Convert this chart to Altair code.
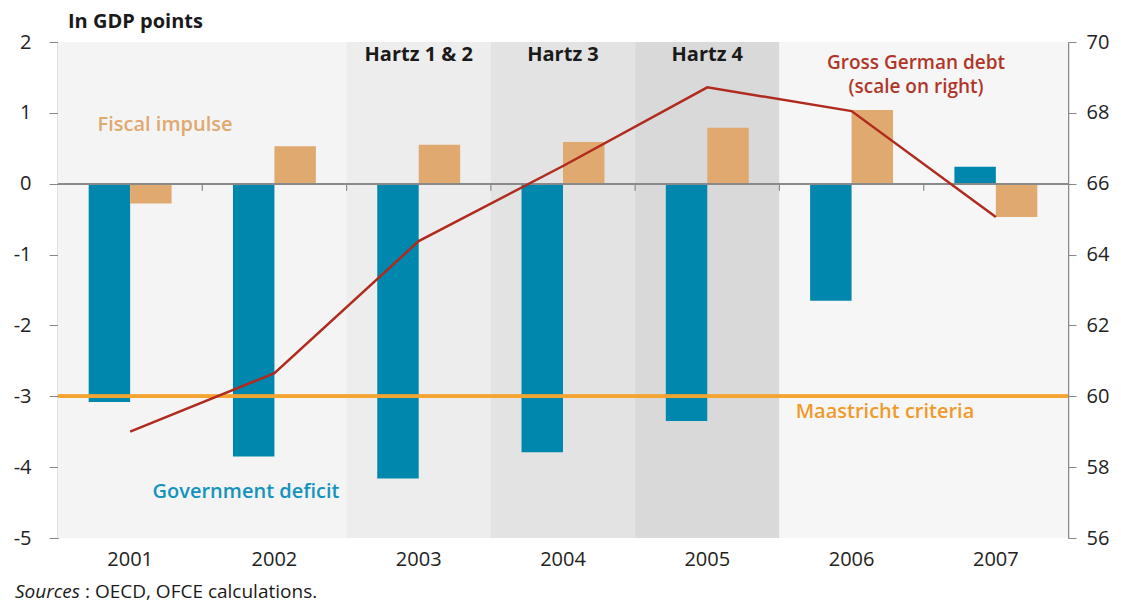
import altair as alt
import pandas as pd

years = ["2001", "2002", "2003", "2004", "2005", "2006", "2007"]
deficit = [-3.08, -3.85, -4.16, -3.79, -3.35, -1.65, 0.24]
impulse = [-0.28, 0.53, 0.55, 0.59, 0.79, 1.04, -0.47]
debt = [59.0, 60.65, 64.38, 66.5, 68.72, 68.05, 65.06]
hartz_years = ["2003", "2004", "2005"]
hartz_labels = ["Hartz 1 & 2", "Hartz 3", "Hartz 4"]
left_ticks = [-5, -4, -3, -2, -1, 0, 1, 2]
right_ticks = [56, 58, 60, 62, 64, 66, 68, 70]
maastricht = -3

FONT = "Open Sans"
W, H = 1010, 496

bars_df = pd.DataFrame({
    "year": years * 2,
    "series": ["deficit"] * len(years) + ["impulse"] * len(years),
    "value": deficit + impulse,
})
debt_df = pd.DataFrame({"year": years, "debt": debt})
bg_df = pd.DataFrame({"year": years})
hartz_df = pd.DataFrame({"year": hartz_years, "label": hartz_labels})
tick_df = pd.DataFrame({"year": years[1:]})

xscale = alt.Scale(domain=years, paddingInner=0, paddingOuter=0)
xenc = alt.X("year:O", scale=xscale, title=None,
             axis=alt.Axis(domain=False, ticks=False, labelAngle=0, labelPadding=11,
                           labelFontSize=20, labelColor="#222", labelFont=FONT))
yscale = alt.Scale(domain=[-5, 2], nice=False, zero=False)

bg = alt.Chart(bg_df).mark_rect().encode(
    x=xenc,
    y=alt.value(0), y2=alt.value(H),
    fill=alt.Fill("year:O", legend=None, scale=alt.Scale(
        domain=years,
        range=["#F4F4F4", "#F4F4F4", "#EDEDED", "#E3E3E3", "#D9D9D9", "#F6F6F6", "#F6F6F6"])),
)

bars = alt.Chart(bars_df).mark_bar().encode(
    x=xenc,
    xOffset=alt.XOffset("series:N", sort=["deficit", "impulse"],
                        scale=alt.Scale(paddingOuter=0.74, paddingInner=0)),
    y=alt.Y("value:Q", scale=yscale, title=None,
            axis=alt.Axis(values=left_ticks, grid=False, domainColor="#888", domainWidth=1.5,
                          tickColor="#888", tickSize=9, labelPadding=18, labelFontSize=20,
                          labelColor="#222", labelFont=FONT, labelExpr="datum.value + ''")),
    color=alt.Color("series:N", legend=None, scale=alt.Scale(
        domain=["deficit", "impulse"], range=["#0087AD", "#DFA96F"])),
)

zero = alt.Chart(bg_df).mark_rule(color="#8a8a8a", strokeWidth=1.5).encode(y=alt.datum(0))
zticks = alt.Chart(tick_df).mark_rule(color="#8a8a8a", strokeWidth=1.2).encode(
    x=alt.X("year:O", bandPosition=0, scale=xscale),
    y=alt.datum(0), y2=alt.datum(-0.1),
)
maas = alt.Chart(bg_df).mark_rule(color="#F4A431", strokeWidth=3).encode(y=alt.datum(maastricht))

hartz = alt.Chart(hartz_df).mark_text(font=FONT, fontSize=20, fontWeight="bold", color="#1a1a1a").encode(
    x=alt.X("year:O", scale=xscale), y=alt.value(13), text="label:N")


def label(txt, x, y, color, size=20, weight=600, align="center", style="normal",
          baseline="middle", line_height=None):
    props = dict(font=FONT, fontSize=size, fontWeight=weight, color=color, align=align,
                 baseline=baseline, fontStyle=style)
    if line_height:
        props["lineHeight"] = line_height
    return alt.Chart(pd.DataFrame({"t": [txt]})).mark_text(**props).encode(
        x=alt.value(x), y=alt.value(y), text="t")


texts = [
    label("In GDP points", 10, -20, "#1a1a1a", weight="bold", align="left"),
    label("Fiscal impulse", 107, 83, "#DFA96F"),
    label("Government deficit", 188, 450, "#1593BC"),
    label("Maastricht criteria", 827, 370, "#F09A2A"),
    label(["Gross German debt", "(scale on right)"], 858, 21, "#B0362A", size=19, line_height=24),
    label("Sources", -43, 556, "#1a1a1a", size=19, weight="normal", align="left",
          style="italic", baseline="alphabetic"),
    label(": OECD, OFCE calculations.", 27, 556, "#1a1a1a", size=19, weight="normal",
          align="left", baseline="alphabetic"),
]

left = alt.layer(bg, bars, zero, zticks, maas, hartz, *texts)

line = alt.Chart(debt_df).mark_line(color="#B02A1E", strokeWidth=2.5).encode(
    x=alt.X("year:O", scale=xscale),
    y=alt.Y("debt:Q", scale=alt.Scale(domain=[56, 70], nice=False, zero=False), title=None,
            axis=alt.Axis(orient="right", values=right_ticks, grid=False, domainColor="#888",
                          domainWidth=1.5, tickColor="#888", tickSize=8, labelPadding=10,
                          labelFontSize=20, labelColor="#222", labelFont=FONT)),
)

chart = alt.layer(left, line).resolve_scale(y="independent").properties(
    width=W, height=H,
    autosize=alt.AutoSizeParams(type="none"),
    padding={"left": 50, "top": 34, "right": 45, "bottom": 67},
).configure_view(stroke=None, fill="#F5F5F5")

chart.save("out.html", embed_options={"renderer": "svg", "actions": False})
